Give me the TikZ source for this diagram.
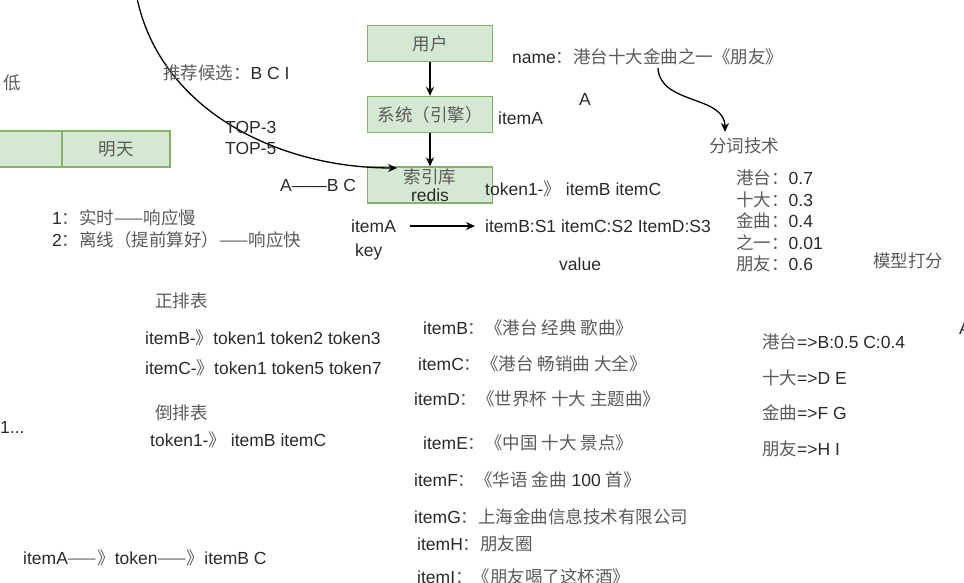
\documentclass[tikz,border=0pt]{standalone}
\usepackage{fontspec}
\setmainfont{Liberation Sans}
\newfontfamily\cjk{Noto Sans CJK SC}
\usetikzlibrary{arrows.meta}
\definecolor{boxfill}{HTML}{D5E8D4}
\definecolor{boxline}{HTML}{82B366}
\definecolor{zhgray}{HTML}{5A5A5A}
\definecolor{entext}{HTML}{2A2A2A}
\newcommand{\zh}[1]{{\cjk\color{zhgray}#1}}
\tikzset{
  txt/.style={anchor=west, inner sep=0pt, text=entext, font=\fontsize{17.5}{20}\selectfont},
  box/.style={draw=boxline, fill=boxfill, line width=1.3pt, minimum width=125pt, minimum height=36pt,
    inner sep=0pt, text=entext, font=\fontsize{17.5}{18}\selectfont},
  arr/.style={-{Stealth[length=9pt,width=8pt]}, line width=1.3pt},
}
\begin{document}
\begin{tikzpicture}[x=1pt,y=-1pt]
  \useasboundingbox (0,0) rectangle (964,583);
  \node[box] (user) at (430,43.5) {\zh{用户}};
  \node[box] (sys) at (430,114.5) {\zh{系统（引擎）}};
  \node[box, align=center] (idx) at (430,185) {\zh{索引库}\\redis};
  \node[box, minimum width=82pt] (lcell) at (21,149) {};
  \node[box, minimum width=108pt] (tmr) at (116,149) {\zh{明天}};
  \draw[arr] (user) -- (sys);
  \draw[arr] (sys) -- (idx);
  \coordinate (topend) at (137,-2);
  \coordinate (hit) at (397,168);
  \draw[arr] (topend) .. controls (160,108) and (275,168) .. (hit);

  \node[txt] (low) at (3,83) {\zh{低}};
  \node[txt] (cand) at (163,73) {\zh{推荐候选：}B C I};
  \node[txt] (top3) at (225,127) {TOP-3};
  \node[txt] (top5) at (225,148) {TOP-5};
  \node[txt] (abc) at (280,185) {A——B C};
  \node[txt] (name) at (512,57) {name\zh{：港台十大金曲之一《朋友》}};
  \node[txt] (letA) at (579,99) {A};
  \node[txt] (itemA) at (498,118) {itemA};
  \node[txt] (seg) at (709,146) {\zh{分词技术}};
  \coordinate (segstart) at (658,68);
  \coordinate (segend) at (725,132);
  \draw[arr] (segstart) .. controls (660,105) and (725,95) .. (segend);
  \node[txt, align=left, font=\fontsize{17.5}{21.5}\selectfont] (scores) at (736,221)
    {\zh{港台：}0.7\\\zh{十大：}0.3\\\zh{金曲：}0.4\\\zh{之一：}0.01\\\zh{朋友：}0.6};
  \node[txt] (model) at (873,261) {\zh{模型打分}};

  \node[txt] (tok) at (485,189) {token1-\zh{》} itemB itemC};
  \node[txt] (keyA) at (351,226) {itemA};
  \node[txt] (key) at (355,252) {key};
  \node[txt] (valS) at (485,226) {itemB:S1 itemC:S2 ItemD:S3};
  \node[txt] (value) at (559,264) {value};
  \draw[arr, shorten <=14pt, shorten >=10pt] (keyA.east) -- (valS.west);

  \node[txt] (mode1) at (52,218) {1\zh{：实时——响应慢}};
  \node[txt] (mode2) at (52,240) {2\zh{：离线（提前算好）——响应快}};

  \node[txt] (fwd) at (155,301) {\zh{正排表}};
  \node[txt] (fwdB) at (145,338) {itemB-\zh{》}token1 token2 token3};
  \node[txt] (fwdC) at (145,368) {itemC-\zh{》}token1 token5 token7};
  \node[txt] (inv) at (155,413) {\zh{倒排表}};
  \node[txt] (inv1) at (150,440) {token1-\zh{》} itemB itemC};
  \node[txt] (dots) at (0,427) {1...};
  \node[txt] (chain) at (23,558) {itemA\zh{——》}token\zh{——》}itemB C};

  \node[txt] (itB) at (423,328) {itemB\zh{：《港台 经典 歌曲》}};
  \node[txt] (itC) at (418,364) {itemC\zh{：《港台 畅销曲 大全》}};
  \node[txt] (itD) at (414,399) {itemD\zh{：《世界杯 十大 主题曲》}};
  \node[txt] (itE) at (423,443) {itemE\zh{：《中国 十大 景点》}};
  \node[txt] (itF) at (414,480) {itemF\zh{：《华语 金曲} 100 \zh{首》}};
  \node[txt] (itG) at (414,517) {itemG\zh{：上海金曲信息技术有限公司}};
  \node[txt] (itH) at (417,544) {itemH\zh{：朋友圈}};
  \node[txt] (itI) at (417,577) {itemI\zh{：《朋友喝了这杯酒》}};

  \node[txt] (mapA) at (762,342) {\zh{港台}=>B:0.5 C:0.4};
  \node[txt] (mapB) at (762,378) {\zh{十大}=>D E};
  \node[txt] (mapC) at (762,413) {\zh{金曲}=>F G};
  \node[txt] (mapD) at (762,449) {\zh{朋友}=>H I};
  \node[txt] (edgeA) at (959,328) {A};
\end{tikzpicture}
\end{document}
